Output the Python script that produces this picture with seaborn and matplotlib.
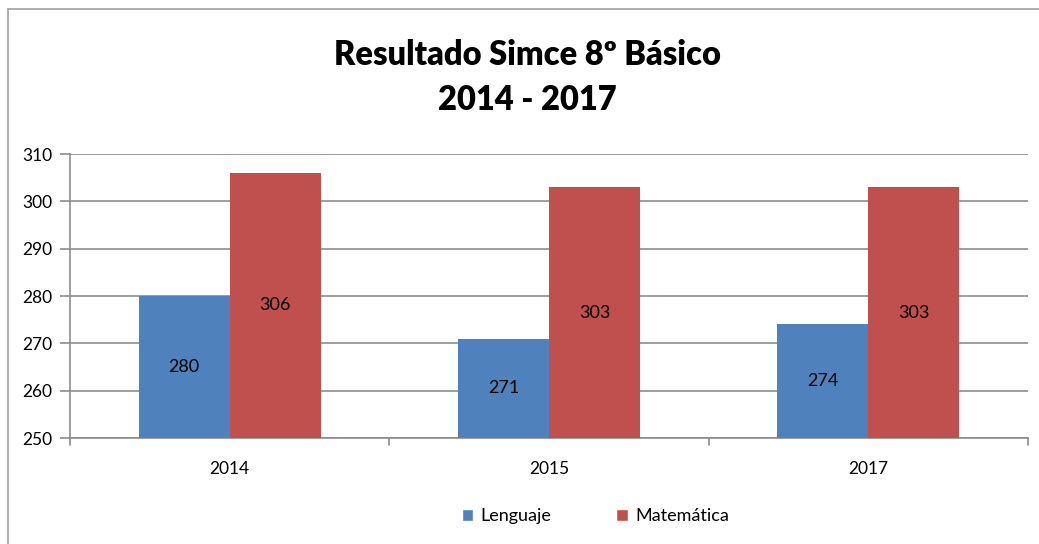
import pandas as pd
import matplotlib.pyplot as plt
import seaborn as sns
from matplotlib.patches import Patch
from matplotlib.lines import Line2D

# Simce data
years = ['2014', '2015', '2017']
lenguaje = [280, 271, 274]
matematica = [306, 303, 303]
series = ['Lenguaje', 'Matemática']
colors = ['#4F81BD', '#C0504D']

data = pd.DataFrame({
    'year': years * 2,
    'score': lenguaje + matematica,
    'subject': [series[0]] * 3 + [series[1]] * 3,
})

sns.set_style('white')
plt.rcParams['font.family'] = ['Lato', 'DejaVu Sans']
plt.rcParams['text.color'] = 'black'
plt.rcParams['xtick.labelcolor'] = 'black'
plt.rcParams['ytick.labelcolor'] = 'black'

fig = plt.figure(figsize=(10.39, 5.44), dpi=100)
ax = fig.add_axes([70 / 1039, 1 - 438 / 544, 958 / 1039, 284 / 544])

sns.barplot(data=data, x='year', y='score', hue='subject', palette=colors,
            width=0.57, gap=0, saturation=1, linewidth=0, ax=ax,
            legend=False, zorder=3)

ax.set_ylim(250, 310)
ax.set_xlim(-0.5, 2.5)
ax.set_yticks(range(250, 311, 10))
ax.yaxis.grid(True, color='#8c8c8c', linewidth=1.2, zorder=0)
ax.set_axisbelow(True)
ax.set_xlabel('')
ax.set_ylabel('')
for side in ['top', 'right']:
    ax.spines[side].set_visible(False)
for side in ['left', 'bottom']:
    ax.spines[side].set_color('#8c8c8c')
    ax.spines[side].set_linewidth(1.2)
ax.tick_params(axis='y', left=True, length=7, width=1.2, color='#8c8c8c',
               labelsize=12.5, pad=6, labelcolor='black')
ax.tick_params(axis='x', bottom=False, labelsize=12.5, pad=13,
               labelcolor='black')

# category separator ticks below the x axis
for b in [-0.5, 0.5, 1.5, 2.5]:
    ax.plot([b, b], [0, -0.025], transform=ax.get_xaxis_transform(),
            color='#8c8c8c', linewidth=1.2, clip_on=False)

# value labels in the middle of the visible part of each bar
for p in ax.patches:
    h = p.get_height()
    ax.text(p.get_x() + p.get_width() / 2, (250 + h) / 2, f'{h:.0f}',
            ha='center', va='center', fontsize=13, color='black', zorder=4)

fig.text(0.508, 1 - 55 / 544, 'Resultado Simce 8º Básico', ha='center',
         va='center', fontsize=23.5, fontweight='heavy', color='black')
fig.text(0.508, 1 - 100 / 544, '2014 - 2017', ha='center', va='center',
         fontsize=23.5, fontweight='heavy', color='black')

handles = [Patch(facecolor=c, label=s) for c, s in zip(colors, series)]
fig.legend(handles=handles, loc='center', bbox_to_anchor=(0.573, 1 - 516 / 544),
           ncol=2, frameon=False, fontsize=13, handlelength=0.65,
           handleheight=0.65, handletextpad=0.4, columnspacing=3.6,
           labelcolor='black')

# chart border
fig.add_artist(Line2D([8 / 1039, 8 / 1039], [0, 1 - 9 / 544],
                      transform=fig.transFigure, color='#a0a0a0', linewidth=1.2))
fig.add_artist(Line2D([8 / 1039, 1], [1 - 9 / 544, 1 - 9 / 544],
                      transform=fig.transFigure, color='#a0a0a0', linewidth=1.2))

fig.savefig('out.png', dpi=100)
